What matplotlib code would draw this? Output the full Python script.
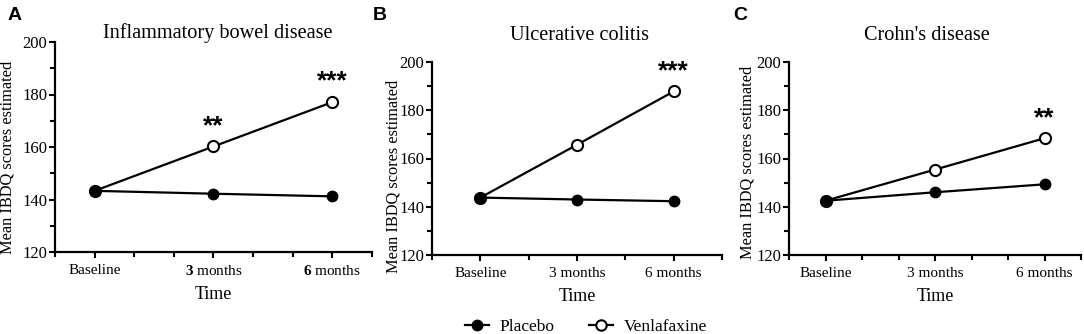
import matplotlib
matplotlib.use("Agg")
import matplotlib.pyplot as plt
import numpy as np
from matplotlib.lines import Line2D
from matplotlib.ticker import MultipleLocator

plt.rcParams['font.family'] = 'Liberation Serif'
plt.rcParams['mathtext.fontset'] = 'custom'
plt.rcParams['mathtext.rm'] = 'Liberation Serif'
plt.rcParams['mathtext.bf'] = 'Liberation Serif:bold'

timepoints = [0, 1, 2]
labels_a = ["Baseline", r"$\mathbf{3}$ months", r"$\mathbf{6}$ months"]
labels_bc = ["Baseline", "3 months", "6 months"]

titles = ["Inflammatory bowel disease", "Ulcerative colitis", "Crohn's disease"]
letters = ["A", "B", "C"]

placebo_ibd = [143.3, 142.2, 141.2]
venla_ibd = [143.3, 160.2, 177.1]
placebo_uc = [143.8, 143.0, 142.3]
venla_uc = [143.8, 165.7, 187.8]
placebo_cd = [142.5, 146.0, 149.3]
venla_cd = [142.5, 155.4, 168.4]

stars_ibd = ["", "**", "***"]
stars_uc = ["", "", "***"]
stars_cd = ["", "", "**"]

fig = plt.figure(figsize=(10.84, 3.34), dpi=100)

W, H = 1084, 334
# axes boxes in pixels: left, bottom(y from top), right, top
boxes = [(55, 252, 372, 42), (432, 255, 722, 62), (789, 255, 1081, 62)]
xlims = [(-1/3, 7/3), (-0.5, 2.5), (-1/3, 7/3)]
xstep = [1/3, 0.5, 1/3]
placebo = [placebo_ibd, placebo_uc, placebo_cd]
venla = [venla_ibd, venla_uc, venla_cd]
stars = [stars_ibd, stars_uc, stars_cd]
xlabels = [labels_a, labels_bc, labels_bc]
title_pos = [(218, 33), (579, 35), (927, 35)]
letter_x = [8, 373, 733]
# right edge x / vertical centre of each y label, in pixels
ylabel_px = [(16, 157), (401, 176), (756, 162)]

for i in range(3):
    l, b, r, t = boxes[i]
    ax = fig.add_axes([l / W, 1 - b / H, (r - l) / W, (b - t) / H])
    ax.plot(timepoints, venla[i], color='black', lw=1.6, marker='o', ms=8,
            mfc='white', mec='black', mew=1.5, zorder=3)
    ax.plot(timepoints, placebo[i], color='black', lw=1.6, marker='o', ms=7.5,
            mfc='black', mec='black', zorder=4)
    for x, y, s in zip(timepoints, venla[i], stars[i]):
        if s:
            ax.annotate(s, (x, y), xytext=(0, 6), textcoords='offset points',
                        ha='center', va='bottom', fontsize=19, fontweight='bold',
                        family='Liberation Sans')
    ax.set_xlim(*xlims[i])
    ax.set_ylim(120, 200)
    ax.set_xticks(timepoints)
    ax.set_xticklabels(xlabels[i], fontsize=11)
    ax.xaxis.set_minor_locator(MultipleLocator(xstep[i]))
    ax.set_yticks([120, 140, 160, 180, 200])
    ax.yaxis.set_minor_locator(MultipleLocator(10))
    ax.tick_params(axis='both', which='major', width=1.5, length=4, pad=1.5)
    ax.tick_params(axis='both', which='minor', width=1.5, length=3.5)
    ax.tick_params(axis='y', labelsize=12)
    ax.tick_params(axis='x', labelsize=11, pad=4.5)
    for sp in ['top', 'right']:
        ax.spines[sp].set_visible(False)
    for sp in ['left', 'bottom']:
        ax.spines[sp].set_linewidth(1.6)
    ax.set_xlabel("Time", fontsize=13, labelpad=6)
    ax.set_ylabel("Mean IBDQ scores estimated", fontsize=11.8)
    ax.yaxis.set_label_coords((ylabel_px[i][0] - l) / (r - l), (b - ylabel_px[i][1]) / (b - t))
    fig.text(title_pos[i][0] / W, 1 - title_pos[i][1] / H, titles[i],
             ha='center', va='center', fontsize=14.6)
    fig.text(letter_x[i] / W, 1 - 15 / H, letters[i], ha='left', va='center',
             fontsize=14, fontweight='bold', family='Liberation Sans')

handles = [
    Line2D([], [], color='black', lw=1.6, marker='o', ms=7.5, mfc='black', mec='black'),
    Line2D([], [], color='black', lw=1.6, marker='o', ms=7.5, mfc='white', mec='black', mew=1.5),
]
fig.legend(handles, ["Placebo", "Venlafaxine"], loc='center', bbox_to_anchor=(586 / W, 1 - 327 / H),
           ncol=2, frameon=False, fontsize=12.5, handlelength=1.4, columnspacing=2.0,
           handletextpad=0.6)

fig.savefig("out.png", dpi=100)
